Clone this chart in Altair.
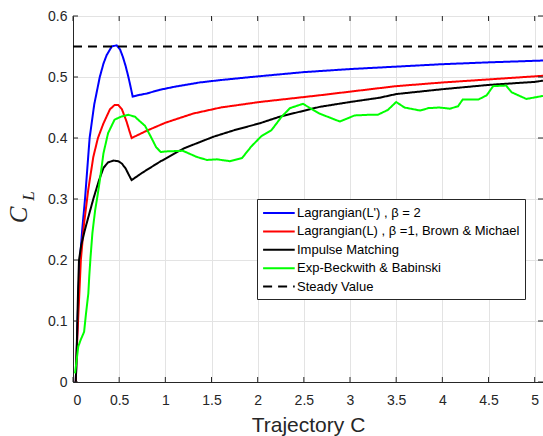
import altair as alt
import pandas as pd

# ---- data ----
blue_x = [0.03, 0.04, 0.05, 0.06, 0.075, 0.10, 0.13, 0.155, 0.18, 0.23, 0.29, 0.33, 0.365, 0.42,
          0.473, 0.51, 0.54, 0.57, 0.60, 0.625, 0.646,
          0.70, 0.80, 0.94, 1.10, 1.37, 1.60, 2.0, 2.5, 3.0, 3.5, 4.0, 4.5, 5.09]
blue_y = [0.0, 0.05, 0.1, 0.15, 0.2, 0.25, 0.3, 0.35, 0.4, 0.455, 0.5, 0.522, 0.536, 0.55,
          0.552, 0.545, 0.533, 0.518, 0.5, 0.483, 0.468,
          0.470, 0.473, 0.479, 0.484, 0.491, 0.495, 0.501, 0.508, 0.513, 0.517, 0.521, 0.524, 0.527]

red_x = [0.03, 0.04, 0.055, 0.07, 0.085, 0.12, 0.165, 0.22, 0.27, 0.33, 0.40, 0.45, 0.49, 0.53,
         0.58, 0.61, 0.635, 0.80, 1.0, 1.30, 1.60, 2.02, 2.67, 3.0, 3.5, 4.0, 4.5, 5.09]
red_y = [0.0, 0.05, 0.1, 0.15, 0.2, 0.26, 0.315, 0.369, 0.40, 0.424, 0.447, 0.454, 0.454, 0.447,
         0.427, 0.412, 0.40, 0.412, 0.425, 0.44, 0.45, 0.459, 0.470, 0.476, 0.485, 0.491, 0.496, 0.502]

black_x = [0.03, 0.04, 0.047, 0.055, 0.065, 0.09, 0.13, 0.18, 0.22, 0.28, 0.33, 0.38, 0.44, 0.49,
           0.53, 0.57, 0.61, 0.635, 0.75, 0.94, 1.2, 1.52, 1.75, 2.02, 2.24, 2.67, 3.0, 3.32,
           3.5, 4.0, 4.5, 5.0, 5.09]
black_y = [0.0, 0.05, 0.1, 0.15, 0.2, 0.225, 0.25, 0.278, 0.30, 0.33, 0.351, 0.36, 0.363, 0.362,
           0.358, 0.35, 0.338, 0.331, 0.343, 0.361, 0.383, 0.402, 0.413, 0.424, 0.435, 0.451, 0.459, 0.466,
           0.472, 0.480, 0.487, 0.492, 0.494]

green_x = [0.022, 0.057, 0.083, 0.12, 0.14, 0.166, 0.176, 0.19, 0.21, 0.24, 0.26, 0.29, 0.33, 0.38,
           0.45, 0.52, 0.60, 0.67, 0.72, 0.78, 0.85, 0.90, 0.95, 1.01, 1.19, 1.34, 1.45, 1.56,
           1.70, 1.83, 1.93, 2.04, 2.15, 2.26, 2.35, 2.49, 2.67, 2.89, 3.05, 3.20, 3.30, 3.41,
           3.50, 3.59, 3.76, 3.85, 3.97, 4.08, 4.17, 4.22, 4.39, 4.48, 4.55, 4.69, 4.75, 4.91, 5.09]
green_y = [0.014, 0.058, 0.069, 0.082, 0.111, 0.145, 0.173, 0.205, 0.244, 0.282, 0.30, 0.33, 0.375, 0.408,
           0.43, 0.435, 0.438, 0.435, 0.428, 0.42, 0.40, 0.385, 0.377, 0.378, 0.379, 0.369, 0.364, 0.365,
           0.362, 0.367, 0.386, 0.403, 0.413, 0.435, 0.449, 0.456, 0.44, 0.427, 0.437, 0.438, 0.438, 0.446,
           0.459, 0.45, 0.445, 0.449, 0.45, 0.448, 0.452, 0.463, 0.463, 0.47, 0.485, 0.486, 0.475, 0.464, 0.469]

steady_x = [0.0, 5.09]
steady_y = [0.55, 0.55]

series_names = [
    "Lagrangian(L') , \u03b2 = 2",
    "Lagrangian(L) , \u03b2 =1, Brown & Michael",
    "Impulse Matching",
    "Exp-Beckwith & Babinski",
    "Steady Value",
]
series_colors = ["#0000ff", "#ff0000", "#000000", "#00ff00", "#000000"]
series_dash = [[1, 0], [1, 0], [1, 0], [1, 0], [9, 6]]

x_ticks = [0, 0.5, 1, 1.5, 2, 2.5, 3, 3.5, 4, 4.5, 5]
y_ticks = [0, 0.1, 0.2, 0.3, 0.4, 0.5, 0.6]
x_domain = [0, 5.09]
y_domain = [0, 0.6]

# ---- build table ----
rows = []
for name, xs, ys in zip(series_names,
                        [blue_x, red_x, black_x, green_x, steady_x],
                        [blue_y, red_y, black_y, green_y, steady_y]):
    for i, (a, b) in enumerate(zip(xs, ys)):
        rows.append({"series": name, "x": a, "y": b, "order": i})
df = pd.DataFrame(rows)

W, H = 470, 366
FONT = "Liberation Sans"
DARK = "#262626"

xscale = alt.Scale(domain=x_domain, nice=False, zero=False)
yscale = alt.Scale(domain=y_domain, nice=False)

leg = alt.Legend(title=None, orient="none", legendX=184, legendY=183)

lines = alt.Chart(df).mark_line(strokeWidth=2, clip=True).encode(
    x=alt.X("x:Q", scale=xscale,
            axis=alt.Axis(values=x_ticks, format="~g", title="Trajectory C",
                          titleY=49, titleBaseline="alphabetic",
                          titleFontSize=21, titleFont=FONT, titleFontWeight="normal",
                          titleColor=DARK, labelPadding=11)),
    y=alt.Y("y:Q", scale=yscale,
            axis=alt.Axis(values=y_ticks, format="~g", title=None, labelPadding=6)),
    color=alt.Color("series:N",
                    scale=alt.Scale(domain=series_names, range=series_colors),
                    legend=leg),
    strokeDash=alt.StrokeDash("series:N",
                              scale=alt.Scale(domain=series_names, range=series_dash),
                              legend=leg),
    order="order:Q",
)

tdf_x = pd.DataFrame({"x": x_ticks})
tdf_y = pd.DataFrame({"y": y_ticks})
tick_style = dict(color=DARK, strokeWidth=1)
bottom_ticks = alt.Chart(tdf_x).mark_rule(**tick_style).encode(
    x=alt.X("x:Q", scale=xscale), y=alt.value(H), y2=alt.value(H - 5))
top_ticks = alt.Chart(tdf_x).mark_rule(**tick_style).encode(
    x=alt.X("x:Q", scale=xscale), y=alt.value(0), y2=alt.value(5))
left_ticks = alt.Chart(tdf_y).mark_rule(**tick_style).encode(
    y=alt.Y("y:Q", scale=yscale), x=alt.value(0), x2=alt.value(5))
right_ticks = alt.Chart(tdf_y).mark_rule(**tick_style).encode(
    y=alt.Y("y:Q", scale=yscale), x=alt.value(W), x2=alt.value(W - 5))

one = pd.DataFrame({"t": ["C"]})
c_text = alt.Chart(one).mark_text(
    font="Liberation Serif", fontStyle="italic", fontSize=25, angle=270,
    align="center", baseline="middle", color=DARK
).encode(x=alt.value(-54), y=alt.value(199), text=alt.value("C"))
l_text = alt.Chart(one).mark_text(
    font="Liberation Serif", fontStyle="italic", fontSize=17, angle=270,
    align="center", baseline="middle", color=DARK
).encode(x=alt.value(-44), y=alt.value(180), text=alt.value("L"))

chart = alt.layer(lines, bottom_ticks, top_ticks, left_ticks, right_ticks, c_text, l_text).properties(
    width=W, height=H,
    autosize=alt.AutoSizeParams(type="none"),
    padding={"left": 73, "top": 16, "right": 0, "bottom": 54},
    background="white",
).configure_view(
    stroke=DARK, strokeWidth=1
).configure_axis(
    ticks=False, domainColor=DARK, domainWidth=1,
    gridColor="#e3e3e3", gridWidth=1,
    labelFont=FONT, labelFontSize=14, labelColor=DARK,
).configure_legend(
    fillColor="white", strokeColor=DARK, strokeWidth=1, padding=5,
    labelFont=FONT, labelFontSize=13, labelColor="#000000", labelLimit=400,
    symbolType="M-1,0H3", symbolSize=250, symbolStrokeWidth=2, labelOffset=17,
    rowPadding=2.4, cornerRadius=0,
)

chart.save("out.html", embed_options={"renderer": "svg", "actions": False})
